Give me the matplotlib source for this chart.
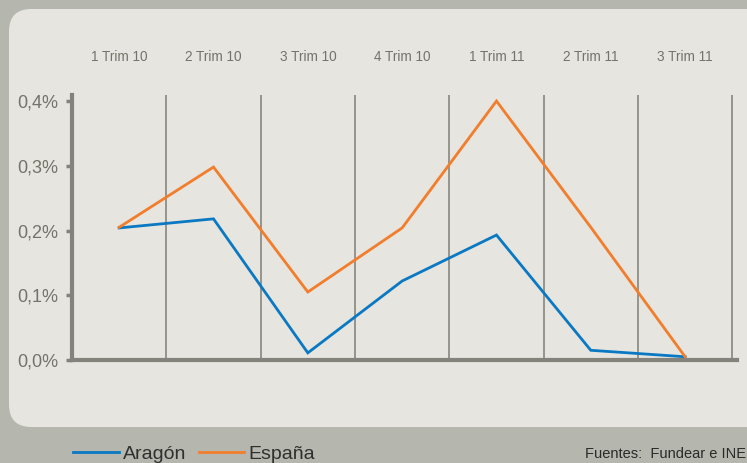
import matplotlib
matplotlib.use("Agg")
import matplotlib.pyplot as plt
from matplotlib.patches import FancyBboxPatch
from matplotlib.lines import Line2D

# data
trimestres = ["1 Trim 10", "2 Trim 10", "3 Trim 10", "4 Trim 10", "1 Trim 11", "2 Trim 11", "3 Trim 11"]
aragon = [0.204, 0.218, 0.011, 0.122, 0.193, 0.015, 0.005]
espana = [0.205, 0.298, 0.105, 0.204, 0.400, 0.205, 0.005]
y_ticks = [0.0, 0.1, 0.2, 0.3, 0.4]
y_labels = ["0,0%", "0,1%", "0,2%", "0,3%", "0,4%"]

plt.rcParams["font.family"] = ["Liberation Sans", "DejaVu Sans"]

W, H = 747, 463
fig = plt.figure(figsize=(W / 100, H / 100), dpi=100)
fig.patch.set_facecolor("#b5b7af")

# rounded light panel
panel = FancyBboxPatch((9 / W, (H - 427) / H), 760 / W, 418 / H,
                       boxstyle="round,pad=0,rounding_size=0.03",
                       transform=fig.transFigure, facecolor="#e6e5df",
                       edgecolor="none", zorder=-5, mutation_aspect=W / H)
fig.patches.append(panel)

ax = fig.add_axes([72 / W, 103 / H, (737 - 72) / W, (360 - 95) / H])
ax.set_facecolor("none")

axis_col = "#84837b"
text_col = "#74736b"

x = [i + 0.5 for i in range(len(trimestres))]
ax.plot(x, aragon, color="#0a78c2", lw=2.0, solid_joinstyle="miter", zorder=3)
ax.plot(x, espana, color="#f27d2c", lw=2.0, solid_joinstyle="miter", zorder=3)

ax.set_xlim(0, 7.05)
ax.set_ylim(0, 0.4093)

# vertical separators
ax.set_xticks(range(1, len(trimestres) + 1), minor=True)
ax.grid(True, which="minor", axis="x", color="#8e8d86", lw=1.3)
ax.tick_params(axis="x", which="minor", length=0)

ax.set_xticks(x)
ax.set_xticklabels(trimestres)
ax.xaxis.tick_top()
ax.tick_params(axis="x", which="major", length=0, pad=22, labelsize=9.8,
               labelcolor=text_col)

ax.set_yticks(y_ticks)
ax.set_yticklabels(y_labels)
ax.tick_params(axis="y", length=4, width=2.5, color=axis_col, pad=6,
               labelsize=13, labelcolor=text_col)

for s in ["top", "right"]:
    ax.spines[s].set_visible(False)
for s in ["left", "bottom"]:
    ax.spines[s].set_color(axis_col)
    ax.spines[s].set_linewidth(3)

# legend below the panel
ly = (H - 452) / H
base = (H - 459) / H
fig.add_artist(Line2D([73 / W, 119 / W], [ly, ly], color="#0a78c2", lw=2))
fig.text(123 / W, base, "Aragón", fontsize=14, color="#2f2f2d", va="baseline")
fig.add_artist(Line2D([199 / W, 244 / W], [ly, ly], color="#f27d2c", lw=2))
fig.text(248 / W, base, "España", fontsize=14, color="#2f2f2d", va="baseline")
fig.text(746 / W, (H - 458) / H, "Fuentes:  Fundear e INE", fontsize=10.5,
         color="#2a2a28", va="baseline", ha="right")

fig.savefig("out.png", dpi=100, facecolor=fig.get_facecolor())
